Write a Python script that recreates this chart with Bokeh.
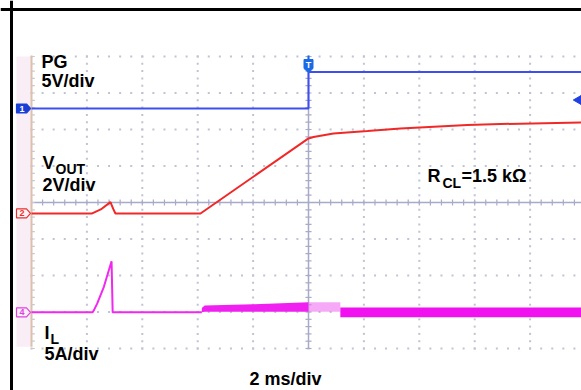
import numpy as np
from bokeh.plotting import figure
from bokeh.models import Range1d, Label, Span
from bokeh.embed import file_html
from bokeh.resources import INLINE

# ---------------- data (time in ms, 2 ms/div, trigger at t = 0) ----------------
pg_t = [-10.0, 0.0, 0.0, 10.0]
pg_v = [0.0, 0.0, 5.0, 5.0]

vout_t = [-10.0, -7.81, -7.5, -7.15, -7.05, -6.97, -3.9, 0.0, 0.18, 0.9, 2.13, 3.32, 5.74, 6.93, 10.0]
vout_v = [0.0, 0.0, 0.22, 0.62, 0.25, 0.0, 0.0, 4.11, 4.19, 4.38, 4.52, 4.66, 4.85, 4.90, 4.99]

il_t = [-10.0, -7.8, -7.75, -7.63, -7.39, -7.11, -7.07, -3.85]
il_a = [0.0, 0.0, 0.27, 1.19, 3.47, 7.0, 0.0, 0.0]

# inductor-current ripple envelope (A)
ilb1_t = [-3.85, -3.75, -2.0, 0.0]
ilb1_hi = [0.6, 0.95, 1.1, 1.37]
ilb1_lo = [0.0, 0.1, 0.1, 0.1]
ilb2_t = [0.0, 1.15]
ilb2_hi = [1.37, 1.37]
ilb2_lo = [0.1, 0.1]
ilb3_t = [1.15, 10.0]
ilb3_hi = [0.68, 0.68]
ilb3_lo = [-0.68, -0.68]

# channel scales (units/div) and offsets (div)
pg_scale, pg_off = 5.0, 2.575
vout_scale, vout_off = 2.0, -0.30
il_scale, il_off = 5.0, -3.01

# ---------------- screen geometry ----------------
W, H = 581, 390
PX_MS = 27.7      # pixels per ms
PX_DIV = 36.5     # pixels per division
T0, D0 = 308.0, 202.0


def tx(px):
    return (px - T0) / PX_MS


def dy(py):
    return (D0 - py) / PX_DIV


def sc(vals, scale, off):
    return [v / scale + off for v in vals]


p = figure(width=W, height=H, output_backend="svg", toolbar_location=None,
           x_range=Range1d(tx(0), tx(W)), y_range=Range1d(dy(H), dy(0)),
           x_axis_type=None, y_axis_type=None, min_border=0,
           outline_line_color=None, background_fill_color="white",
           border_fill_color="white")
p.xgrid.visible = False
p.ygrid.visible = False

# left pink strip
p.quad(left=tx(16), right=-10, bottom=-3.95, top=4, fill_color="#f9eef6", line_color=None)

# dotted graticule
gx, gy = [], []
for d in range(-4, 5):
    if d == 0:
        continue
    ts = np.arange(-10, 10.001, 0.4)
    gx += list(ts)
    gy += [d] * len(ts)
for tt in range(-8, 11, 2):
    if tt == 0:
        continue
    ds = np.arange(-4, 4.001, 0.2)
    gx += [tt] * len(ds)
    gy += list(ds)
p.scatter(gx, gy, marker="square", size=2, fill_color="#c2c2d4", line_color=None)

# centre lines with ticks
p.line([-10, 10], [0, 0], line_color="#a8aac8", line_width=1.5)
p.line([0, 0], [-4, 4], line_color="#a8aac8", line_width=1.5)
ht = np.arange(-10, 10.001, 0.4)
p.segment(x0=ht, y0=-0.08, x1=ht, y1=0.08, line_color="#a8aac8", line_width=1.2)
vt = np.arange(-4, 4.001, 0.2)
p.segment(x0=-0.11, y0=vt, x1=0.11, y1=vt, line_color="#a8aac8", line_width=1.2)

# left edge line
p.line([-10, -10], [-3.95, 4], line_color="#dcc0a8", line_width=2)
p.segment(x0=-10, y0=vt, x1=-9.88, y1=vt, line_color="#c8c8d4", line_width=1.2)

# ---------------- traces ----------------
p.line(pg_t, sc(pg_v, pg_scale, pg_off), line_color="#3d4ff0", line_width=2)
p.line(vout_t, sc(vout_v, vout_scale, vout_off), line_color="#f02828", line_width=2)
p.line(il_t, sc(il_a, il_scale, il_off), line_color="#f028f0", line_width=2)
p.varea(x=ilb1_t, y1=sc(ilb1_lo, il_scale, il_off), y2=sc(ilb1_hi, il_scale, il_off),
        fill_color="#f020f0")
p.varea(x=ilb2_t, y1=sc(ilb2_lo, il_scale, il_off), y2=sc(ilb2_hi, il_scale, il_off),
        fill_color="#f070f0", fill_alpha=0.6)
p.varea(x=ilb3_t, y1=sc(ilb3_lo, il_scale, il_off), y2=sc(ilb3_hi, il_scale, il_off),
        fill_color="#f010f0")


# ---------------- channel markers ----------------
def pent_right(px_l, py_c, w, h, tip):
    xs = [px_l, px_l + w - tip, px_l + w, px_l + w - tip, px_l]
    ys = [py_c - h / 2, py_c - h / 2, py_c, py_c + h / 2, py_c + h / 2]
    return [tx(x) for x in xs], [dy(y) for y in ys]


def ch_marker(py_c, label, line, fill, txt):
    xs, ys = pent_right(16, py_c, 14, 9, 4)
    p.patch(xs, ys, fill_color=fill, line_color=line, line_width=1.2)
    p.add_layout(Label(x=tx(21.5), y=dy(py_c), text=label, text_align="center",
                       text_baseline="middle", text_font="Liberation Sans",
                       text_font_style="bold", text_font_size="9px", text_color=txt))


ch_marker(D0 - pg_off * PX_DIV, "1", "#1a3fd6", "#1a3fd6", "white")
ch_marker(D0 - vout_off * PX_DIV, "2", "#e83030", "#fff2f2", "#e83030")
ch_marker(D0 - il_off * PX_DIV, "4", "#e040e0", "#fdf0fd", "#e040e0")

# trigger marker "T" (points down)
txs = [tx(x) for x in [303.5, 312.5, 312.5, 308, 303.5]]
tys = [dy(y) for y in [59, 59, 68, 72, 68]]
p.patch(txs, tys, fill_color="#1a6ae6", line_color="#1a6ae6")
p.segment(x0=0, y0=dy(55), x1=0, y1=dy(59), line_color="#1a6ae6", line_width=2)
p.add_layout(Label(x=0, y=dy(64.5), text="T", text_align="center", text_baseline="middle",
                   text_font="Liberation Sans", text_font_style="bold",
                   text_font_size="9px", text_color="white"))

# right-edge trigger level arrow
p.scatter([tx(578)], [dy(99.5)], marker="triangle", angle=np.pi / 2, size=9,
          fill_color="#2040e0", line_color="#2040e0")


# ---------------- labels (y = vertical centre of capitals) ----------------
def lab(px, py, text, size="18px"):
    p.add_layout(Label(x=tx(px), y=dy(py), text=text, text_baseline="middle",
                       text_font="Liberation Sans", text_font_style="bold",
                       text_font_size=size, text_color="black"))


lab(41, 61.5, "PG")
lab(41, 80.5, "5V/div")
lab(42, 162.5, "V")
lab(55, 168.5, "OUT", "14px")
lab(42, 184.5, "2V/div")
lab(44, 332.5, "I")
lab(50, 338, "L", "14px")
lab(44, 353, "5A/div")
lab(427, 175, "R")
lab(442, 182, "CL", "14px")
lab(461, 175, "=1.5 k\u03a9")
lab(249, 378.5, "2 ms/div")

# outer black frame (left and top edges visible)
p.add_layout(Span(location=tx(11), dimension="height", line_color="black", line_width=3))
p.add_layout(Span(location=dy(9), dimension="width", line_color="black", line_width=3))

open("out.html", "w").write(file_html(p, INLINE))
